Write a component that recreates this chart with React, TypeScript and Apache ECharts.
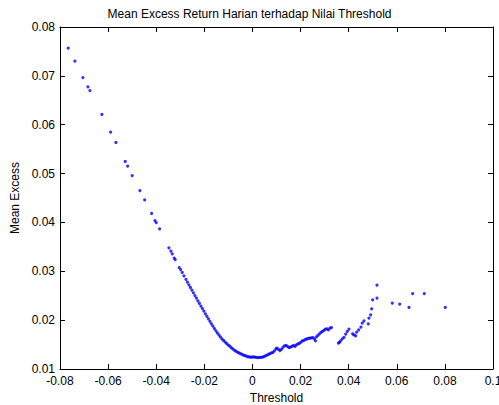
import React, { useEffect, useRef } from "react";
import * as echarts from "echarts";

const titleText = "Mean Excess Return Harian terhadap Nilai Threshold";
const xName = "Threshold";
const yName = "Mean Excess";

// Threshold values (x)
const thresholds: number[] = [
  -0.07659, -0.0738, -0.07048, -0.0684, -0.06757, -0.06258, -0.05896, -0.05676,
  -0.05289, -0.05189, -0.04998, -0.04678, -0.04482, -0.04191, -0.04054, -0.04,
  -0.03859, -0.03472, -0.03389, -0.03335, -0.03252, -0.0321, -0.03044, -0.02985,
  -0.02919, -0.02848,
  -0.02765, -0.02703, -0.0264, -0.02578, -0.02516, -0.02453, -0.02391, -0.02328,
  -0.02266, -0.02204, -0.02141, -0.02079, -0.02017, -0.01954, -0.01892, -0.0183,
  -0.01767, -0.01705, -0.01642, -0.0158, -0.01518, -0.01455, -0.01393, -0.01331,
  -0.01268, -0.01206, -0.01143, -0.01081, -0.01019, -0.00956, -0.00894, -0.00832,
  -0.00769, -0.00707, -0.00644, -0.00582, -0.0052, -0.00457, -0.00395, -0.00333,
  -0.0027, -0.00208, -0.00146, -0.00083, -0.00021, 0.00042, 0.00104, 0.00166,
  0.00229, 0.00291, 0.00353, 0.00416, 0.00478, 0.00541, 0.00603, 0.00665,
  0.00728, 0.0079, 0.00852, 0.00915, 0.00977, 0.01019, 0.01081, 0.01143,
  0.01206, 0.01268, 0.01331, 0.01393, 0.01455, 0.01518, 0.0158, 0.01642,
  0.01705, 0.01767, 0.0183, 0.01892, 0.01954, 0.02017, 0.02079, 0.02141,
  0.02204, 0.02266, 0.02328, 0.02391, 0.02453, 0.02516, 0.02578, 0.0262,
  0.02661, 0.02723, 0.02786, 0.02848, 0.02911, 0.02973, 0.03035, 0.03098,
  0.0316, 0.03222, 0.03285,
  0.03576, 0.03617, 0.03667, 0.03734, 0.03805, 0.03875, 0.03942, 0.04012,
  0.04166, 0.0422, 0.04291, 0.04333, 0.04416, 0.04511, 0.04565, 0.04636,
  0.04815, 0.04844, 0.04915, 0.04956, 0.04998, 0.05177, 0.05177,
  0.05813, 0.06121, 0.06507, 0.06661, 0.07143, 0.08017,
];

// Mean excess values (y)
const meanExcess: number[] = [
  0.07568, 0.07302, 0.06966, 0.06776, 0.067, 0.06209, 0.05849, 0.05636,
  0.05247, 0.05153, 0.0496, 0.04653, 0.04463, 0.04183, 0.04039, 0.03998,
  0.03869, 0.03481, 0.03413, 0.03358, 0.0327, 0.03241, 0.03077, 0.03036,
  0.02975, 0.02908,
  0.02836, 0.02779, 0.02723, 0.02668, 0.02613, 0.0256, 0.02504, 0.02451,
  0.02396, 0.02343, 0.02289, 0.02236, 0.02183, 0.0213, 0.02079, 0.02027,
  0.01976, 0.01925, 0.01876, 0.01827, 0.01782, 0.01737, 0.01696, 0.01655,
  0.01618, 0.01587, 0.01557, 0.01526, 0.01495, 0.01471, 0.01444, 0.01418,
  0.01393, 0.01372, 0.01352, 0.01336, 0.01319, 0.01305, 0.01291, 0.01278,
  0.01266, 0.01254, 0.01246, 0.01242, 0.01244, 0.0125, 0.01244, 0.01237,
  0.01235, 0.01239, 0.01237, 0.01244, 0.01254, 0.0127, 0.01284, 0.01301,
  0.01315, 0.01332, 0.01342, 0.01372, 0.01413, 0.01428, 0.01403, 0.01377,
  0.01403, 0.01444, 0.01475, 0.01485, 0.01465, 0.0144, 0.0145, 0.01465,
  0.01481, 0.01465, 0.01495, 0.01516, 0.01526, 0.01551, 0.01577, 0.01587,
  0.01604, 0.01618, 0.01628, 0.01632, 0.01639, 0.01643, 0.01618, 0.01577,
  0.01659, 0.0169, 0.0172, 0.01751, 0.01772, 0.01792, 0.01817, 0.01823,
  0.01802, 0.01837, 0.01849,
  0.0153, 0.01546, 0.01577, 0.01618, 0.01645, 0.01714, 0.01768, 0.01817,
  0.0172, 0.017, 0.01679, 0.01755, 0.01802, 0.01858, 0.01939, 0.01987,
  0.01925, 0.02042, 0.02109, 0.02232, 0.02416, 0.02451, 0.02717,
  0.02349, 0.02328, 0.02259, 0.02545, 0.02545, 0.02259,
];

const xTicks = { min: -0.08, max: 0.1, interval: 0.02 };
const yTicks = { min: 0.01, max: 0.08, interval: 0.01 };

const FONT = "Liberation Sans, Arial, Helvetica, sans-serif";

function fmt(v: number): string {
  return String(+v.toFixed(2));
}

export default function App() {
  const ref = useRef<HTMLDivElement>(null);
  useEffect(() => {
    if (!ref.current) return;
    const chart = echarts.init(ref.current, undefined, { renderer: "svg", width: 499, height: 405 });
    const points = thresholds.map((x, i) => [x, meanExcess[i]]);
    const axisLine = { show: true, onZero: false, lineStyle: { color: "#000", width: 1 } };
    const tick = { show: true, inside: true, length: 5, lineStyle: { color: "#000", width: 1 } };
    chart.setOption({
      animation: false,
      backgroundColor: "#fff",
      title: {
        text: titleText,
        left: "center",
        top: 3,
        textStyle: { fontFamily: FONT, fontSize: 12, fontWeight: "normal", color: "#000" },
      },
      grid: {
        left: 60,
        top: 27,
        width: 433,
        height: 342,
        containLabel: false,
        outerBoundsMode: "none",
      },
      xAxis: [
        {
          type: "value",
          position: "bottom",
          ...xTicks,
          name: xName,
          nameLocation: "middle",
          nameGap: 22,
          nameTextStyle: { fontFamily: FONT, fontSize: 12, color: "#000" },
          axisLine,
          axisTick: tick,
          splitLine: { show: false },
          axisLabel: { fontFamily: FONT, fontSize: 12, color: "#000", margin: 6, formatter: fmt, showMinLabel: true, showMaxLabel: true, hideOverlap: false },
        },
        {
          type: "value",
          position: "top",
          ...xTicks,
          axisLine,
          axisTick: tick,
          splitLine: { show: false },
          axisLabel: { show: false },
        },
      ],
      yAxis: [
        {
          type: "value",
          position: "left",
          ...yTicks,
          name: yName,
          nameLocation: "middle",
          nameGap: 37,
          nameTextStyle: { fontFamily: FONT, fontSize: 12, color: "#000" },
          axisLine,
          axisTick: tick,
          splitLine: { show: false },
          axisLabel: { fontFamily: FONT, fontSize: 12, color: "#000", margin: 5, formatter: fmt, showMinLabel: true, showMaxLabel: true },
        },
        {
          type: "value",
          position: "right",
          ...yTicks,
          axisLine,
          axisTick: tick,
          splitLine: { show: false },
          axisLabel: { show: false },
        },
      ],
      series: [
        {
          type: "scatter",
          data: points,
          symbol: "circle",
          symbolSize: 3.2,
          itemStyle: { color: "#0000ff" },
          xAxisIndex: 0,
          yAxisIndex: 0,
        },
      ],
    });
    return () => chart.dispose();
  }, []);
  return (
    <div
      ref={ref}
      style={{ position: "fixed", left: 0, top: 0, width: 499, height: 405, background: "#fff" }}
    />
  );
}
